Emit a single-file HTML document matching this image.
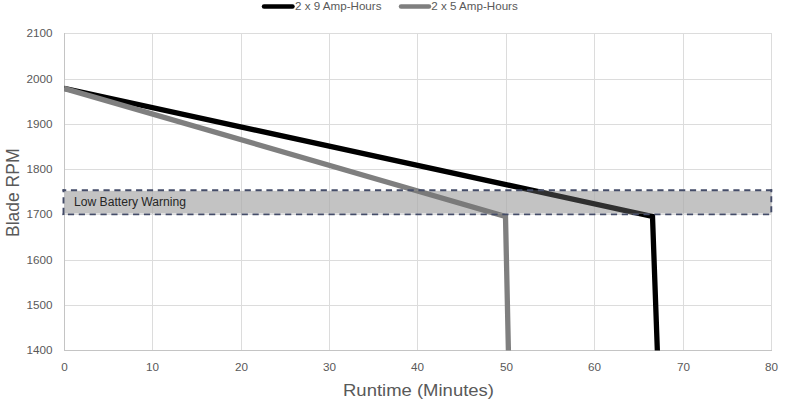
<!DOCTYPE html>
<html><head><meta charset="utf-8">
<style>
html,body{margin:0;padding:0;background:#fff;width:791px;height:401px;overflow:hidden}
svg{display:block}
text{font-family:"Liberation Sans",sans-serif}
</style></head>
<body>
<svg width="791" height="401" viewBox="0 0 791 401">
<defs>
<clipPath id="bd"><rect x="64.3" y="190.8" width="707" height="22.7"/></clipPath>
<clipPath id="pa"><rect x="64" y="0" width="708" height="350.5"/></clipPath>
</defs>
<!-- gridlines -->
<g stroke="#dcdcdc" stroke-width="1" fill="none">
<path d="M64 33.5H771.5M64 79.5H771.5M64 124.5H771.5M64 169.5H771.5M64 214.5H771.5M64 260.5H771.5M64 305.5H771.5"/>
<path d="M152.5 33V350M241.5 33V350M329.5 33V350M417.5 33V350M506.5 33V350M594.5 33V350M683.5 33V350M771.5 33V350"/>
</g>
<g stroke="#c4c4c4" stroke-width="1" fill="none">
<path d="M64.5 33V350.5M64 350.5H772"/>
</g>
<!-- lines -->
<g clip-path="url(#pa)" fill="none" stroke-width="5.3" stroke-linejoin="miter">
<polyline points="64,88.4 652.5,216.5 657.5,355" stroke="#000"/>
<polyline points="64,88.4 505.5,216.5 508.5,355" stroke="#7f7f7f"/>
</g>
<!-- band -->
<rect x="64.3" y="190.8" width="707" height="22.7" fill="#c3c3c3"/>
<path d="M152.5 191V213.5M241.5 191V213.5M329.5 191V213.5M417.5 191V213.5M506.5 191V213.5M594.5 191V213.5M683.5 191V213.5" stroke="#b9b9b9" stroke-width="1"/>
<g clip-path="url(#bd)" fill="none" stroke-width="5.3" stroke-linejoin="miter">
<polyline points="64,88.4 652.5,216.5 657.5,355" stroke="#303030"/>
<polyline points="64,88.4 505.5,216.5 508.5,355" stroke="#7a7a7a"/>
</g>
<g stroke="#444c68" stroke-width="1.9" fill="none">
<line x1="62.5" y1="190.3" x2="772.3" y2="190.3" stroke-dasharray="6.2 4.66" stroke-dashoffset="2.46"/>
<line x1="62.5" y1="214.4" x2="772.3" y2="214.4" stroke-dasharray="6.2 4.66" stroke-dashoffset="5.46"/>
<line x1="63.5" y1="189.3" x2="63.5" y2="215" stroke-dasharray="3 5 6.2 4.3 7.2 20"/>
<line x1="771.3" y1="189.3" x2="771.3" y2="215" stroke-dasharray="3 4 6 4 6 4 6 20"/>
</g>
<text x="74" y="206" font-size="12" fill="#262626" textLength="112" lengthAdjust="spacingAndGlyphs">Low Battery Warning</text>
<!-- y labels -->
<g font-size="11.7" fill="#595959" text-anchor="end">
<text x="52.5" y="37.2">2100</text>
<text x="52.5" y="82.5">2000</text>
<text x="52.5" y="127.8">1900</text>
<text x="52.5" y="173.1">1800</text>
<text x="52.5" y="218.4">1700</text>
<text x="52.5" y="263.7">1600</text>
<text x="52.5" y="309.0">1500</text>
<text x="52.5" y="354.3">1400</text>
</g>
<!-- x labels -->
<g font-size="11.7" fill="#595959" text-anchor="middle">
<text x="64.5" y="370.6">0</text>
<text x="152.5" y="370.6">10</text>
<text x="241.5" y="370.6">20</text>
<text x="329.5" y="370.6">30</text>
<text x="417.5" y="370.6">40</text>
<text x="506.5" y="370.6">50</text>
<text x="594.5" y="370.6">60</text>
<text x="683.5" y="370.6">70</text>
<text x="771.5" y="370.6">80</text>
</g>
<text x="343" y="395.6" font-size="17" fill="#595959" textLength="151" lengthAdjust="spacingAndGlyphs">Runtime (Minutes)</text>
<text transform="translate(18.7,237) rotate(-90)" font-size="18" fill="#595959" textLength="88.5" lengthAdjust="spacingAndGlyphs">Blade RPM</text>
<!-- legend -->
<line x1="264" y1="6.5" x2="292.5" y2="6.5" stroke="#000" stroke-width="4.5" stroke-linecap="round"/>
<text x="295" y="9.8" font-size="11" fill="#595959" textLength="86.5" lengthAdjust="spacingAndGlyphs">2 x 9 Amp-Hours</text>
<line x1="401" y1="6.5" x2="429" y2="6.5" stroke="#7f7f7f" stroke-width="4.5" stroke-linecap="round"/>
<text x="431.3" y="9.8" font-size="11" fill="#595959" textLength="86.5" lengthAdjust="spacingAndGlyphs">2 x 5 Amp-Hours</text>
</svg>
</body></html>
